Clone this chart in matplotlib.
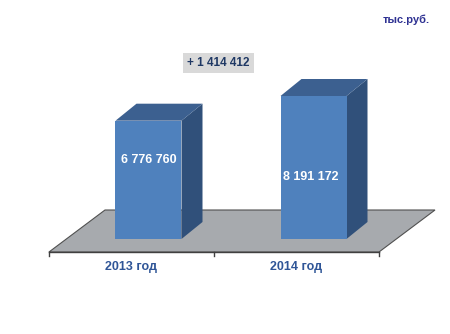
import matplotlib
matplotlib.use("Agg")
import matplotlib.pyplot as plt
from matplotlib.patches import Polygon

categories = ["2013 год", "2014 год"]
values = [6776760, 8191172]
value_labels = ["6 776 760", "8 191 172"]
diff_label = "+ 1 414 412"
unit_label = "тыс.руб."

plt.rcParams['font.family'] = ['Liberation Sans', 'DejaVu Sans']

W, H = 450, 334
fig = plt.figure(figsize=(W / 100, H / 100), dpi=100)
ax = fig.add_axes([0, 0, 1, 1])
ax.set_axis_off()

vpp = max(values) / 143.0          # value units per pixel
xpp = 1 / 165.0                    # x units per pixel
ax.set_xlim(-148.5 * xpp, (W - 148.5) * xpp)
ax.set_ylim(-95 * vpp, (H - 95) * vpp)

front_c = "#4F81BD"
top_c = "#3C6090"
side_c = "#30507A"
floor_c = "#A7AAAE"

# floor
fy0, fy1 = -13 * vpp, 29 * vpp
floor = Polygon([(-99.5 * xpp, fy0), (230.5 * xpp, fy0),
                 (286.5 * xpp, fy1), (-43.5 * xpp, fy1)],
                closed=True, facecolor=floor_c, edgecolor="#505050", lw=0.8, zorder=1)
ax.add_patch(floor)
# axis line and ticks
ax.plot([-99.5 * xpp, 230.5 * xpp], [fy0, fy0], color="#404040", lw=1.0, zorder=2)
for tx in [-99.5 * xpp, 65.5 * xpp, 230.5 * xpp]:
    ax.plot([tx, tx], [fy0, fy0 - 4 * vpp], color="#404040", lw=1.0, zorder=2)

bw = 66 * xpp
ddx, ddy = 21 * xpp, 17 * vpp
for i, v in enumerate(values):
    x0, x1 = i - bw / 2, i + bw / 2
    ax.add_patch(Polygon([(x1, 0), (x1 + ddx, ddy), (x1 + ddx, v + ddy), (x1, v)],
                         closed=True, facecolor=side_c, edgecolor="none", zorder=3))
    ax.add_patch(Polygon([(x0, v), (x0 + ddx, v + ddy), (x1 + ddx, v + ddy), (x1, v)],
                         closed=True, facecolor=top_c, edgecolor="none", zorder=3))
    ax.add_patch(Polygon([(x0, 0), (x1, 0), (x1, v), (x0, v)],
                         closed=True, facecolor=front_c, edgecolor="none", zorder=4))

# value labels
ax.text(0, 79 * vpp, value_labels[0], ha="center", va="center", color="white",
        fontsize=9, fontweight="bold", zorder=5)
ax.text(1 - 3 * xpp, 62 * vpp, value_labels[1], ha="center", va="center", color="white",
        fontsize=9, fontweight="bold", zorder=5)

# category labels (centred between ticks)
for i, c in enumerate(categories):
    ax.text(i - 17 * xpp, -28 * vpp, c, ha="center", va="center", color="#2F5597",
            fontsize=9, fontweight="bold")

# difference label
fig.text(218.5 / W, 1 - 63 / H, diff_label, ha="center", va="center", color="#1F3864",
         fontsize=8.5, fontweight="bold",
         bbox=dict(boxstyle="square,pad=0.35", facecolor="#D9D9D9", edgecolor="none"))

# unit
fig.text(406 / W, 1 - 20 / H, unit_label, ha="center", va="center", color="#2E3192",
         fontsize=8, fontweight="bold")

fig.savefig("out.png", dpi=100)
